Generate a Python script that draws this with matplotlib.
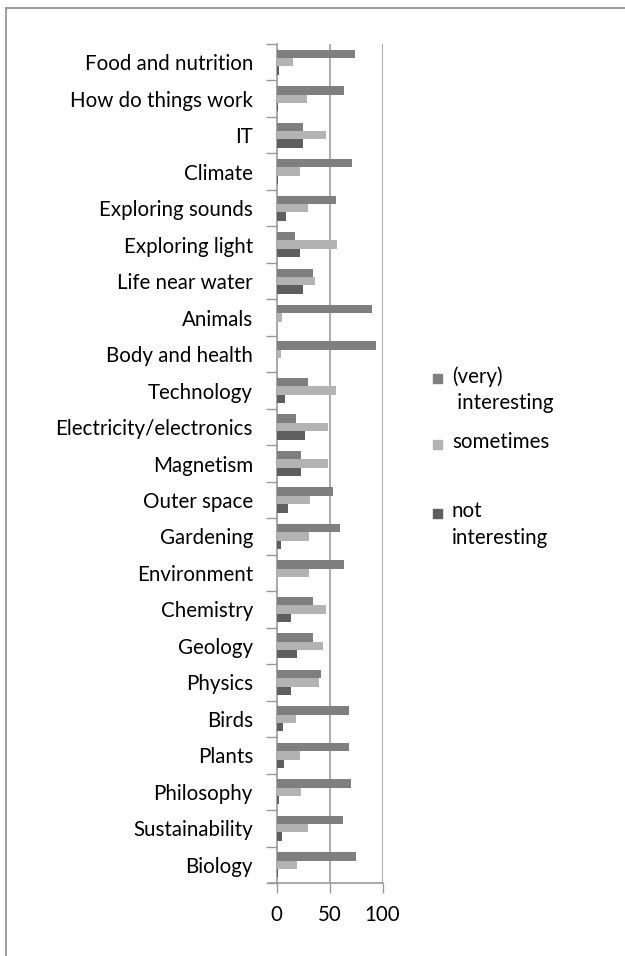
import matplotlib
matplotlib.use("Agg")
import matplotlib.pyplot as plt
from matplotlib.patches import Rectangle
from matplotlib.lines import Line2D
import numpy as np

plt.rcParams['font.family'] = ['Lato', 'DejaVu Sans']

categories = ["Food and nutrition", "How do things work", "IT", "Climate",
              "Exploring sounds", "Exploring light", "Life near water", "Animals",
              "Body and health", "Technology", "Electricity/electronics", "Magnetism",
              "Outer space", "Gardening", "Environment", "Chemistry", "Geology",
              "Physics", "Birds", "Plants", "Philosophy", "Sustainability", "Biology"]
very_interesting = [74, 64, 25, 71, 56, 17, 34, 90, 94, 30, 18, 23, 53, 60, 64, 34, 34, 42, 68, 68, 70, 63, 75]
sometimes = [16, 29, 47, 22, 30, 57, 36, 5, 4, 56, 49, 49, 32, 31, 31, 47, 44, 40, 18, 22, 23, 30, 19]
not_interesting = [2, 1, 25, 1, 9, 22, 25, 0, 0, 8, 27, 23, 11, 4, 0, 14, 19, 14, 6, 7, 2, 5, 1]
series_names = ["(very)\n interesting", "sometimes", "not\ninteresting"]
xticks = [0, 50, 100]

colors = ["#7f7f7f", "#b3b3b3", "#5f5f5f"]

W, H = 625, 956
FS = 14.8
fig = plt.figure(figsize=(W / 100, H / 100), dpi=100)
ax = fig.add_axes([276.5 / W, 1 - 883 / H, 106 / W, (883 - 44) / H])

n = len(categories)
y = np.arange(n)
bh = 0.23
for i, vals in enumerate([very_interesting, sometimes, not_interesting]):
    ax.barh(y + (i - 1) * bh, vals, height=bh, color=colors[i], edgecolor='none', zorder=3)

ax.set_xlim(0, 100)
ax.set_ylim(n - 0.5, -0.5)
ax.set_xticks(xticks)
ax.set_xticklabels([str(v) for v in xticks], fontsize=FS)
ax.set_yticks(y)
ax.set_yticklabels(categories, fontsize=FS)
ax.tick_params(axis='y', length=0, pad=17)
ax.set_yticks(np.arange(-0.5, n, 1), minor=True)
ax.tick_params(axis='y', which='minor', length=8, color='#999999', width=1)
ax.tick_params(axis='x', length=7, color='#999999', width=1, pad=9)
for v in [50, 100]:
    ax.axvline(v, color='#a6a6a6', lw=1.3, zorder=1)
for s in ['top', 'right']:
    ax.spines[s].set_visible(False)
ax.spines['left'].set_color('#999999')
ax.spines['bottom'].set_color('#999999')
ax.spines['left'].set_linewidth(1.2)
ax.spines['bottom'].set_linewidth(1.2)
# extend bottom axis line leftwards as in reference
ax.add_line(Line2D([-8 / 1.06, 0], [n - 0.5, n - 0.5], color='#999999', lw=1.2,
                   clip_on=False, transform=ax.transData))

# legend (manual)
leg_y = [378, 444, 513]
for name, c, yy in zip(series_names, colors, leg_y):
    fig.add_artist(Rectangle((433 / W, 1 - (yy + 4.5) / H), 9 / W, 9 / H,
                             transform=fig.transFigure, color=c))
    fig.text(452 / W, 1 - (yy - 12) / H, name, fontsize=FS, va='top', ha='left',
             linespacing=1.42)

# outer frame
fig.add_artist(Line2D([6 / W, 6 / W], [0, 1 - 8 / H], color='#8c8c8c', lw=1.2, transform=fig.transFigure))
fig.add_artist(Line2D([6 / W, 1], [1 - 8 / H, 1 - 8 / H], color='#8c8c8c', lw=1.2, transform=fig.transFigure))

fig.savefig("out.png", dpi=100)
